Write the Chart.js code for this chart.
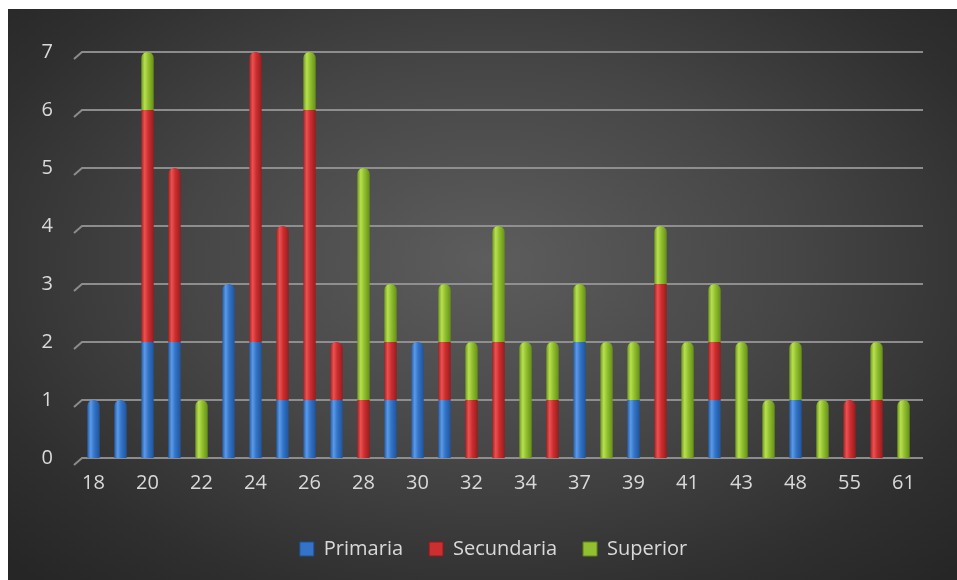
<!DOCTYPE html>
<html>
<head>
<meta charset="utf-8">
<script src="https://cdn.jsdelivr.net/npm/chart.js@4.4.1/dist/chart.umd.min.js"></script>
<style>
  html, body { margin: 0; padding: 0; background: #ffffff; overflow: hidden; }
  #wrap {
    position: absolute; left: 8px; top: 9px; width: 960px; height: 600px; overflow: hidden;
    background: radial-gradient(ellipse 70% 72% at 50% 42%, #5d5d5d 0%, #464646 45%, #2f2f2f 80%, #262626 100%);
  }
  canvas { display: block; }
</style>
</head>
<body>
<div id="wrap"><canvas id="chart" width="949" height="571"></canvas></div>
<script>
const edades = ['18','19','20','21','22','23','24','25','26','27','28','29','30','31','32','33','34','36','37','38','39','40','41','42','43','45','48','50','55','57','61'];
const primaria   = [1,1,2,2,0,3,2,1,1,1,0,1,2,1,0,0,0,0,2,0,1,0,0,1,0,0,1,0,0,0,0];
const secundaria = [0,0,4,3,0,0,5,3,5,1,1,1,0,1,1,2,0,1,0,0,0,3,0,1,0,0,0,0,1,1,0];
const superior   = [0,0,1,0,1,0,0,0,1,0,4,1,0,1,1,2,2,1,1,2,1,1,2,1,2,1,1,1,0,1,1];
const yTicks = [0,1,2,3,4,5,6,7];

// colores tipo cilindro: borde oscuro, brillo, base
const tonos = [
  { dark: '#1d4f93', light: '#5a9ae8', base: '#3474c8' },
  { dark: '#8e1a1c', light: '#ee5050', base: '#cc2f30' },
  { dark: '#5f8a12', light: '#b8e050', base: '#92c030' }
];

function cilindro(ctx, t) {
  const chart = ctx.chart;
  const x = chart.scales && chart.scales.x;
  if (!x || ctx.dataIndex === undefined || !chart.chartArea) return t.base;
  const c = x.getPixelForValue(ctx.dataIndex);
  const w = 7;
  const g = chart.ctx.createLinearGradient(c - w, 0, c + w, 0);
  g.addColorStop(0, t.dark);
  g.addColorStop(0.3, t.light);
  g.addColorStop(0.55, t.base);
  g.addColorStop(1, t.dark);
  return g;
}

const series = [primaria, secundaria, superior];
function radio(ctx) {
  const i = ctx.dataIndex, d = ctx.datasetIndex;
  if (i === undefined) return 0;
  for (let k = series.length - 1; k > d; k--) {
    if (series[k][i] > 0) return 0;
  }
  return { topLeft: 6, topRight: 6, bottomLeft: 0, bottomRight: 0 };
}

// líneas de cuadrícula con un trazo inclinado al inicio (efecto 3D)
const cuadricula = {
  id: 'cuadricula',
  afterLayout(chart) {
    // la leyenda del original está algo desplazada a la derecha
    chart.legend.left += 21;
    chart.legend.right += 21;
  },
  beforeDatasetsDraw(chart) {
    const y = chart.scales.y, a = chart.chartArea, g = chart.ctx;
    g.save();
    g.strokeStyle = 'rgba(150,150,150,0.9)';
    g.lineWidth = 2;
    yTicks.forEach(v => {
      const py = y.getPixelForValue(v);
      g.beginPath();
      g.moveTo(a.left - 6, py + 7);
      g.lineTo(a.left + 2, py);
      g.lineTo(a.right + 6, py);
      g.stroke();
    });
    g.restore();
  }
};

new Chart(document.getElementById('chart'), {
  type: 'bar',
  data: {
    labels: edades,
    datasets: [
      { label: 'Primaria', data: primaria, backgroundColor: c => cilindro(c, tonos[0]), borderRadius: radio, borderSkipped: false },
      { label: 'Secundaria', data: secundaria, backgroundColor: c => cilindro(c, tonos[1]), borderRadius: radio, borderSkipped: false },
      { label: 'Superior', data: superior, backgroundColor: c => cilindro(c, tonos[2]), borderRadius: radio, borderSkipped: false }
    ]
  },
  options: {
    responsive: false,
    animation: false,
    categoryPercentage: 1,
    barPercentage: 0.46,
    layout: { padding: { top: 43, right: 40, left: 20, bottom: 11 } },
    scales: {
      x: {
        stacked: true,
        grid: { display: false, drawTicks: false },
        border: { display: false },
        ticks: {
          autoSkip: false,
          maxRotation: 0,
          padding: 13,
          color: '#d9d9d9',
          font: { family: 'Open Sans', size: 20 },
          callback: function (v, i) { return i % 2 === 0 ? this.getLabelForValue(v) : ''; }
        },
        afterFit: s => { s.height = 55; }
      },
      y: {
        stacked: true,
        min: 0,
        max: 7,
        grid: { display: false, drawTicks: false },
        border: { display: false },
        ticks: {
          stepSize: 1,
          padding: 27,
          color: '#d9d9d9',
          font: { family: 'Open Sans', size: 20 }
        },
        afterFit: s => { s.width = 52; }
      }
    },
    plugins: {
      tooltip: { enabled: false },
      legend: {
        position: 'bottom',
        labels: {
          color: '#d9d9d9',
          font: { family: 'Open Sans', size: 20 },
          boxWidth: 14,
          boxHeight: 14,
          padding: 26,
          generateLabels: chart => chart.data.datasets.map((ds, i) => ({
            text: ds.label,
            fillStyle: tonos[i].base,
            strokeStyle: tonos[i].dark,
            lineWidth: 1,
            fontColor: '#d9d9d9',
            datasetIndex: i
          }))
        }
      }
    }
  },
  plugins: [cuadricula]
});
</script>
</body>
</html>
